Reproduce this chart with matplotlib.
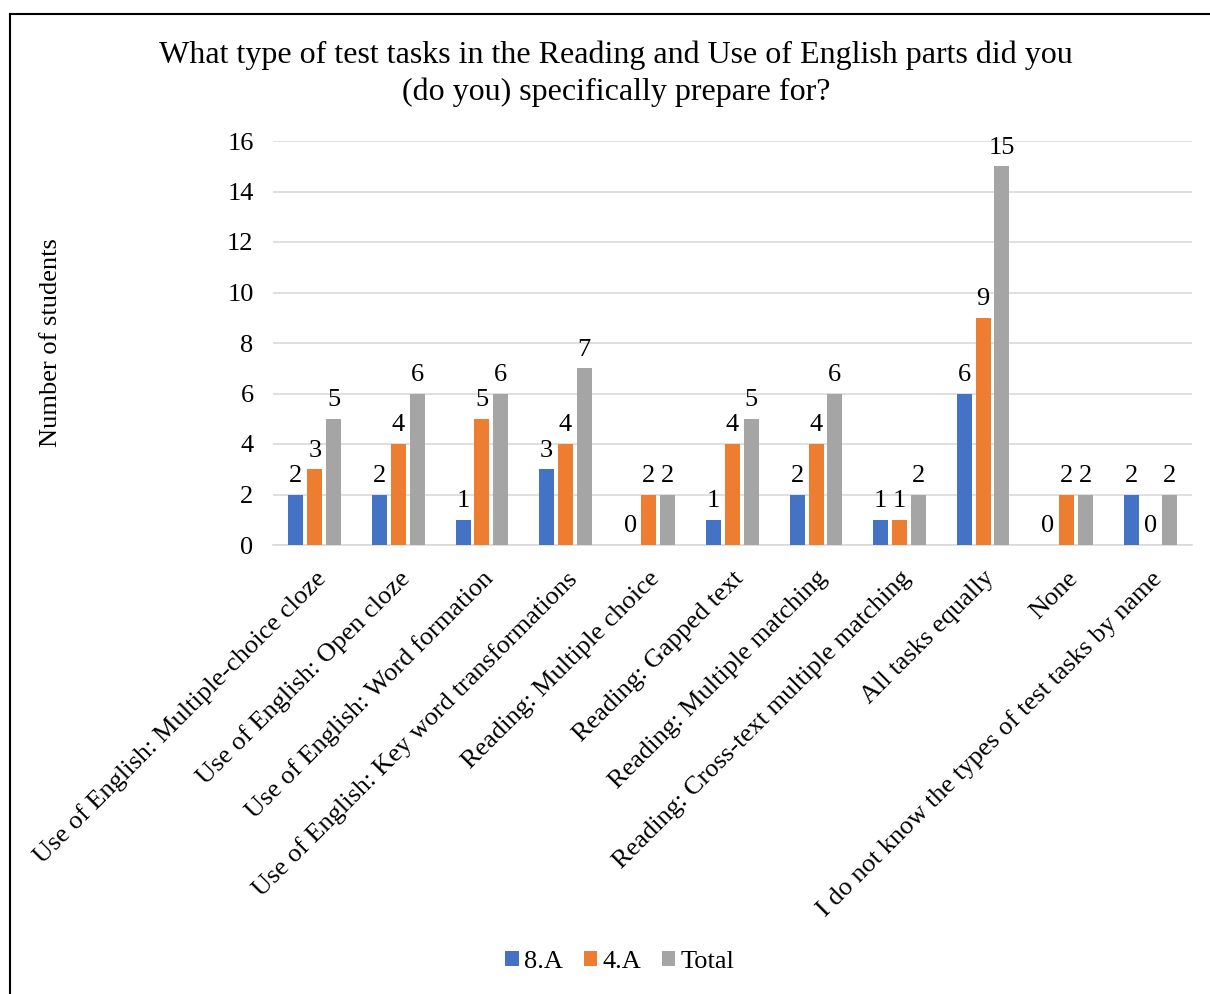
import matplotlib
matplotlib.use("Agg")
import matplotlib.pyplot as plt
from matplotlib.lines import Line2D
import numpy as np

categories = [
    "Use of English: Multiple-choice cloze",
    "Use of English: Open cloze",
    "Use of English: Word formation",
    "Use of English: Key word transformations",
    "Reading: Multiple choice",
    "Reading: Gapped text",
    "Reading: Multiple matching",
    "Reading: Cross-text multiple matching",
    "All tasks equally",
    "None",
    "I do not know the types of test tasks by name",
]
series_names = ["8.A", "4.A", "Total"]
values_8a = [2, 2, 1, 3, 0, 1, 2, 1, 6, 0, 2]
values_4a = [3, 4, 5, 4, 2, 4, 4, 1, 9, 2, 0]
values_total = [5, 6, 6, 7, 2, 5, 6, 2, 15, 2, 2]
colors = ["#4472C4", "#ED7D31", "#A5A5A5"]
yticks = [0, 2, 4, 6, 8, 10, 12, 14, 16]

plt.rcParams['font.family'] = ['Liberation Serif', 'DejaVu Serif']

W, H = 1210, 994
FS = 19
fig = plt.figure(figsize=(W / 100, H / 100), dpi=100)
ax = fig.add_axes([273 / W, 1 - 545 / H, (1192 - 273) / W, (545 - 141) / H])

x = np.arange(len(categories))
width = 0.18
step = 0.225
all_vals = [values_8a, values_4a, values_total]
handles = []
for i, (vals, c, name) in enumerate(zip(all_vals, colors, series_names)):
    bars = ax.bar(x + (i - 1) * step, vals, width=width, color=c, label=name, zorder=3)
    handles.append(bars)
    for xi, v in zip(x + (i - 1) * step, vals):
        ax.text(xi, v + 0.3, str(v), ha='center', va='bottom', fontsize=FS, zorder=4)

ax.set_xlim(-0.5, len(categories) - 0.5)
ax.set_ylim(0, 16)
ax.set_yticks(yticks)
ax.set_yticklabels([str(t) for t in yticks], fontsize=FS)
ax.yaxis.grid(True, color="#D9D9D9", linewidth=1.2, zorder=0)
ax.set_axisbelow(True)
for s in ['top', 'right', 'left']:
    ax.spines[s].set_visible(False)
ax.spines['bottom'].set_color("#D9D9D9")
ax.spines['bottom'].set_linewidth(1.2)
ax.tick_params(axis='both', length=0)
ax.tick_params(axis='y', pad=14)
ax.set_xticks(x)
ax.set_xticklabels(categories, rotation=45, ha='right', rotation_mode='anchor', fontsize=FS)
ax.tick_params(axis='x', pad=16)

ax.set_ylabel("Number of students", fontsize=FS, labelpad=0)
ax.yaxis.set_label_coords((62 - 273) / (1192 - 273), 0.5)

fig.text(616 / W, 1 - 74 / H,
         "What type of test tasks in the Reading and Use of English parts did you\n(do you) specifically prepare for?",
         ha='center', va='center', fontsize=23, linespacing=1.35)

leg = fig.legend(handles=handles, labels=series_names, loc='center', bbox_to_anchor=(620 / W, 1 - 962 / H),
                 ncol=3, frameon=False, fontsize=FS, handlelength=0.5, handleheight=0.5,
                 handletextpad=0.2, columnspacing=0.8)

# outer frame
fig.add_artist(Line2D([10 / W, 10 / W], [0, 1 - 14 / H], color='black', lw=1.5, transform=fig.transFigure))
fig.add_artist(Line2D([10 / W, 1], [1 - 14 / H, 1 - 14 / H], color='black', lw=1.5, transform=fig.transFigure))

fig.savefig("out.png", dpi=100)
